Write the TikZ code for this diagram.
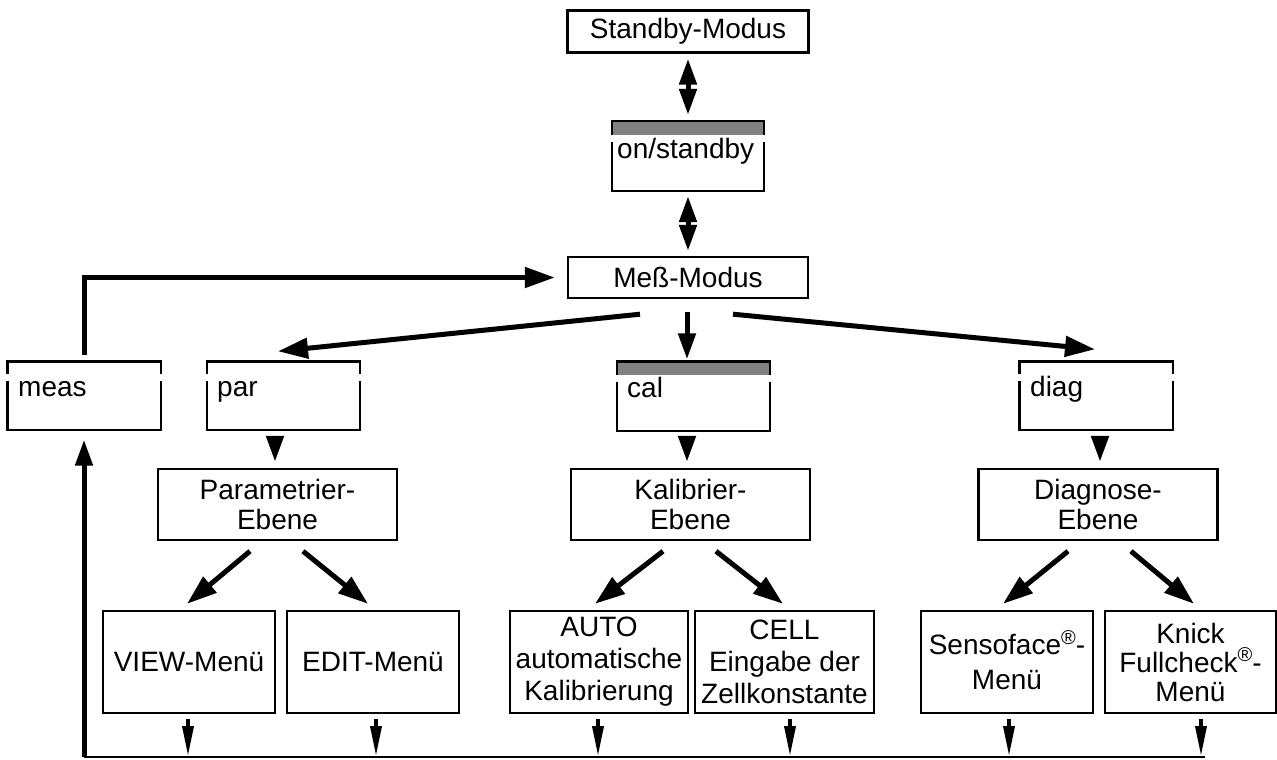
\documentclass[tikz,border=0pt]{standalone}
\usepackage{fontspec}
\setmainfont{Liberation Sans}
\usetikzlibrary{arrows.meta,calc}
\newcommand\plainkey[1]{%
  \draw[boxline] ([yshift=-13pt]#1.north west) -- (#1.north west) -- (#1.north east) -- ([yshift=-13pt]#1.north east);
  \draw[boxline] ([yshift=-20pt]#1.north west) -- (#1.south west) -- (#1.south east) -- ([yshift=-20pt]#1.north east);}
\newcommand\graykey[1]{%
  \fill[keygray] (#1.north west) rectangle ([yshift=-14pt]#1.north east);
  \draw[boxline] ([yshift=-14pt]#1.north west) -- (#1.north west) -- (#1.north east) -- ([yshift=-14pt]#1.north east);
  \draw[boxline] ([yshift=-21pt]#1.north west) -- (#1.south west) -- (#1.south east) -- ([yshift=-21pt]#1.north east);}
\definecolor{keygray}{RGB}{128,128,128}
\newcommand\reg{\smash{\raisebox{0.7ex}{\fontsize{20}{20}\selectfont ®}}}
\begin{document}
\begin{tikzpicture}[x=1pt,y=-1pt,
  font=\fontsize{28}{30}\selectfont,
  box/.style={draw, line width=2.4pt, inner sep=0pt, align=center},
  keyframe/.style={inner sep=0pt, minimum width=153pt, minimum height=68pt},
  keytext/.style={anchor=base west, inner sep=0pt},
  boxline/.style={line width=2.4pt},
  bigarrow/.style={line width=5pt, -{Triangle[length=30pt,width=20pt]}},
  tri/.style={line width=5pt, -{Triangle[length=26pt,width=17pt]}},
  dbl/.style={line width=5pt, {Triangle[length=26pt,width=17pt]}-{Triangle[length=26pt,width=17pt]}},
  busarrow/.style={line width=3.5pt, -{Triangle[length=30pt,width=11pt]}},
  busline/.style={line width=2.5pt}]
\useasboundingbox (0,0) rectangle (1277,760);

% top
\node[box, minimum width=241pt, minimum height=42pt] (standby) at (688,31.5) {Standby-Modus};
\node[keyframe, minimum width=152pt, minimum height=70pt] (onst) at (688,156) {};
\graykey{onst}
\node[keytext] (onsttext) at (617,158) {on/standby};
\node[box, minimum width=240pt, minimum height=41pt] (mess) at (688,277.5) {Meß-Modus};

% keys
\node[keyframe] (meas) at (84,395.5) {};
\plainkey{meas}
\node[keytext] (meastext) at (18,396) {meas};
\node[keyframe] (par) at (283.5,395.5) {};
\plainkey{par}
\node[keytext] (partext) at (217,396) {par};
\node[keyframe, minimum height=69pt] (cal) at (693.5,396) {};
\graykey{cal}
\node[keytext] (caltext) at (627,397) {cal};
\node[keyframe] (diag) at (1096,395.5) {};
\plainkey{diag}
\node[keytext] (diagtext) at (1030,396) {diag};

% levels
\tikzset{level/.style={box, minimum width=239pt, minimum height=71pt, font=\fontsize{28}{30}\selectfont}}
\node[level] (plevel) at (277.5,504.5) {Parametrier-\\Ebene};
\node[level] (klevel) at (690.5,504.5) {Kalibrier-\\Ebene};
\node[level] (dlevel) at (1098,504.5) {Diagnose-\\Ebene};

% menus
\tikzset{menu/.style={box, minimum width=172pt, minimum height=102pt}}
\node[menu] (view) at (189,662) {VIEW-Menü};
\node[menu] (edit) at (373,662) {EDIT-Menü};
\node[menu, minimum width=178pt, font=\fontsize{28}{32}\selectfont] (auto) at (599,662) {AUTO\\automatische\\Kalibrierung};
\node[menu, minimum width=179pt, font=\fontsize{28}{32}\selectfont] (cell) at (784.5,662) {CELL\\Eingabe der\\Zellkonstante};
\node[menu, font=\fontsize{28}{35}\selectfont] (senso) at (1007,662) {Sensoface\reg-\\Menü};
\node[menu, minimum width=171pt, font=\fontsize{28}{29}\selectfont] (knick) at (1190.5,662) {Knick\\Fullcheck\reg-\\Menü};

% connectors top
\draw[dbl] ([yshift=-5pt]standby.south) -- ([yshift=6pt]onst.north);
\draw[dbl] ([yshift=-5pt]onst.south) -- ([yshift=5pt]mess.north);
\draw[bigarrow] ([xshift=-48pt,yshift=-15pt]mess.south) -- ([xshift=-5.5pt,yshift=10pt]par.north);
\draw[tri] ([xshift=-1pt,yshift=-13pt]mess.south) -- ([xshift=-6.5pt,yshift=2pt]cal.north);
\draw[bigarrow] ([xshift=45pt,yshift=-15pt]mess.south) -- ([xshift=-1pt,yshift=12pt]diag.north);
\draw[bigarrow] ([yshift=6pt]meas.north) |- ([xshift=-12pt]mess.west);

% keys to levels
\draw[tri] ([xshift=-8.5pt,yshift=-8pt]par.south) -- ([xshift=-2.5pt,yshift=6pt]plevel.north);
\draw[tri] ([xshift=-6.5pt,yshift=-8pt]cal.south) -- ([xshift=-3.5pt,yshift=6pt]klevel.north);
\draw[tri] ([xshift=4pt,yshift=-8pt]diag.south) -- ([xshift=2pt,yshift=6pt]dlevel.north);

% levels to menus
\draw[bigarrow] ([xshift=-27.5pt,yshift=-10pt]plevel.south) -- ([xshift=-2pt,yshift=6pt]view.north);
\draw[bigarrow] ([xshift=25.5pt,yshift=-10pt]plevel.south) -- ([xshift=-5pt,yshift=6pt]edit.north);
\draw[bigarrow] ([xshift=-27.5pt,yshift=-10pt]klevel.south) -- ([xshift=-4pt,yshift=6pt]auto.north);
\draw[bigarrow] ([xshift=25.5pt,yshift=-10pt]klevel.south) -- ([xshift=-1.5pt,yshift=6pt]cell.north);
\draw[bigarrow] ([xshift=-30pt,yshift=-10pt]dlevel.south) -- ([xshift=-4pt,yshift=6pt]senso.north);
\draw[bigarrow] ([xshift=33pt,yshift=-10pt]dlevel.south) -- ([xshift=3.5pt,yshift=6pt]knick.north);

% bus
\coordinate (busL) at (84,757);
\coordinate (busR) at (1205,757);
\coordinate (measin) at ([yshift=-10pt]meas.south);
\draw[busline] (busL) -- (busR);
\draw[tri] (busL) -- (busL |- measin);
\foreach \n/\dx in {view/-1,edit/3,auto/-1,cell/5.5,senso/2,knick/10.5}{
  \draw[busarrow, shorten >=1pt] ([xshift=\dx pt,yshift=-5pt]\n.south) -- ([xshift=\dx pt]\n.south |- busL);
}
\end{tikzpicture}
\end{document}
